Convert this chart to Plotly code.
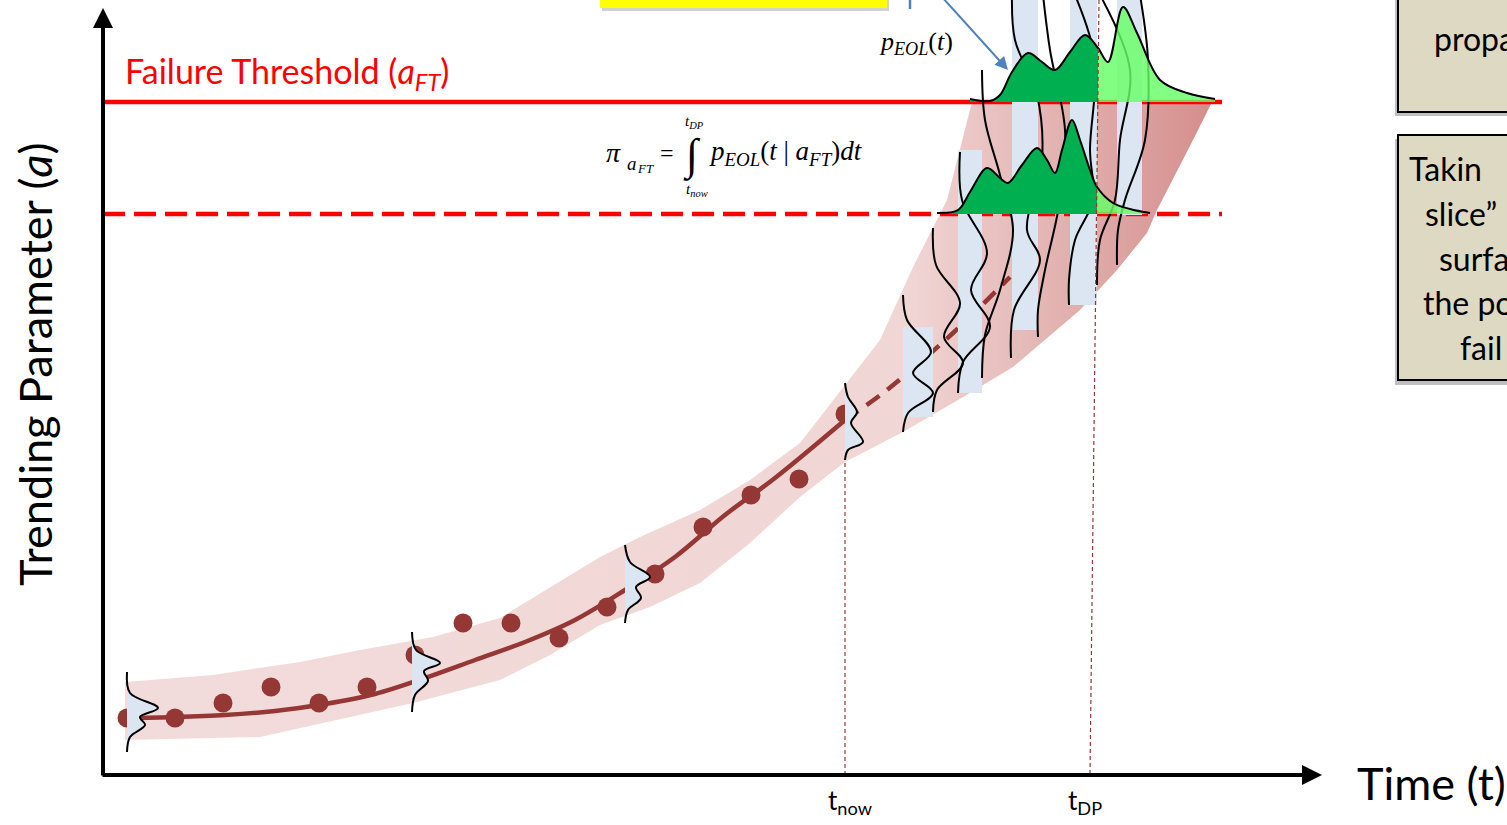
import plotly.graph_objects as go

# ---------------- data (t = time units, a = trending-parameter units) ----------------
obs_t = [24, 72, 120, 168, 216, 264, 312, 360, 408, 456, 504, 552, 600, 648, 696, 742]
obs_a = [57, 57, 72, 88, 72, 88, 120, 152, 152, 137, 168, 201, 248, 280, 296, 361]

fit_t = [22, 72, 122, 172, 222, 272, 322, 372, 422, 472, 522, 572, 622, 672, 742]
fit_a = [57, 58, 60, 64, 71, 81, 97, 115, 133, 155, 185, 218, 260, 297, 355]

pred_t = [742, 784, 850, 907]
pred_a = [355, 385, 442, 498]

band_up_t = [22, 110, 197, 257, 330, 397, 497, 537, 597, 647, 697, 742, 777, 810, 844, 869]
band_up_a = [93, 100, 113, 125, 138, 157, 218, 238, 265, 295, 332, 390, 435, 508, 575, 673]
band_lo_t = [1109, 1090, 1054, 1044, 1014, 977, 910, 855, 800, 742, 697, 647, 597, 547, 497, 447, 397, 310, 264, 157, 22]
band_lo_a = [673, 635, 565, 542, 505, 465, 408, 375, 343, 313, 278, 232, 192, 168, 150, 120, 95, 72, 62, 38, 35]

a_FT = 673          # failure threshold
a_warn = 561        # dashed threshold
t_end = 1119        # end of threshold lines
t_now = 742
t_now_a_top = 315
t_DP_top, t_DP_bot = 996, 987

# small pdfs along the fit (t, a)
pdf1_t = [24, 27, 55, 37, 42, 27, 24];          pdf1_a = [103, 82, 67, 58, 50, 38, 23]
pdf2_t = [309, 313, 337, 321, 325, 312, 309];   pdf2_a = [143, 125, 112, 104, 94, 80, 63]
pdf3_t = [522, 527, 547, 533, 538, 525, 522];   pdf3_a = [230, 213, 198, 188, 177, 165, 152]
pdf4_t = [742, 745, 754, 748, 760, 745, 742];   pdf4_a = [392, 378, 363, 352, 333, 325, 315]

# propagated pdfs (future)
up1_t = [800, 804, 828, 810, 830, 805, 800];        up1_a = [480, 455, 423, 402, 382, 362, 343]
up2_t = [830, 833, 857, 841, 860, 834, 830];        up2_a = [547, 510, 472, 438, 412, 385, 363]
up3_t = [857, 859, 884, 868, 887, 860, 855];        up3_a = [623, 575, 522, 485, 448, 413, 382]
up4_t = [879, 882, 897, 910, 897, 882, 879];        up4_a = [705, 655, 600, 545, 485, 440, 397]
up5_t = [909, 912, 934, 939, 924, 937, 911, 908];   up5_a = [780, 735, 680, 615, 545, 515, 465, 417]
up6_t = [940, 947, 962, 957, 942, 935, 935];        up6_a = [780, 725, 645, 575, 505, 465, 438]
up7_t = [972, 992, 987, 990, 972, 966, 966];        up7_a = [780, 715, 625, 575, 535, 495, 470]
up8_t = [997, 1027, 1017, 1012, 997, 994];          up8_a = [780, 705, 635, 575, 535, 490]
up9_t = [1037, 1045, 1042, 1022, 1015, 1014];       up9_a = [780, 715, 635, 575, 545, 510]

strip_t0 = [800, 855, 909, 967, 1014]
strip_t1 = [830, 879, 935, 994, 1039]
strip_top = [448, 625, 780, 780, 780]
strip_bot = [358, 382, 445, 470, 560]

# p_EOL at failure threshold
eol1_dark_t = [867, 887, 897, 909, 925, 939, 952, 967, 982, 995]
eol1_dark_a = [676, 674, 680, 703, 722, 713, 705, 723, 740, 727]
eol1_light_t = [995, 1005, 1020, 1034, 1057, 1084, 1112]
eol1_light_a = [727, 713, 768, 742, 695, 682, 676]
# p_EOL at dashed threshold
eol2_dark_t = [834, 855, 867, 884, 897, 905, 919, 934, 944, 952, 959, 969, 977, 987, 994]
eol2_dark_a = [562, 565, 583, 607, 597, 592, 610, 627, 615, 602, 625, 655, 635, 605, 588]
eol2_light_t = [994, 1010, 1027, 1047]
eol2_light_a = [588, 572, 566, 562]

# ---------------- styles ----------------
DARKRED = "#953735"
BLUE_FILL = "#dce6f2"
DARKGREEN = "#00b050"
LIGHTGREEN = "rgba(102,255,102,0.82)"
SANS = "Lato, Carlito, 'Open Sans', sans-serif"
SERIF = "'Liberation Serif', 'DejaVu Serif', serif"

fig = go.Figure()

def add(**kw):
    kw.setdefault("hoverinfo", "skip")
    kw.setdefault("showlegend", False)
    fig.add_trace(go.Scatter(**kw))

# uncertainty band with horizontal gradient
add(x=band_up_t + band_lo_t, y=band_up_a + band_lo_a, mode="lines", fill="toself",
    line=dict(width=0, color="rgba(0,0,0,0)"),
    fillgradient=dict(type="horizontal",
                      colorscale=[[0, "#f2dcdb"], [0.72, "#f0d6d5"], [1, "#d48e8c"]]))

# threshold lines
add(x=[0, t_end], y=[a_FT, a_FT], mode="lines", line=dict(color="#ff0000", width=4.5))
add(x=[0, t_end], y=[a_warn, a_warn], mode="lines", line=dict(color="#ff0000", width=4.5, dash="22px,9px"))

# fit + prediction
add(x=fit_t, y=fit_a, mode="lines", line=dict(color=DARKRED, width=4.5, shape="spline"))
add(x=pred_t, y=pred_a, mode="lines", line=dict(color=DARKRED, width=4.5, shape="spline", dash="16px,10px"))
add(x=obs_t, y=obs_a, mode="markers", marker=dict(color=DARKRED, size=19, line=dict(width=0)))

# t_now dotted line
add(x=[t_now, t_now], y=[0, t_now_a_top], mode="lines", line=dict(color=DARKRED, width=1.2, dash="4px,3px"))

# strips behind propagated pdfs
for t0, t1, top, bot in zip(strip_t0, strip_t1, strip_top, strip_bot):
    add(x=[t0, t1, t1, t0, t0], y=[bot, bot, top, top, bot], mode="lines", fill="toself",
        fillcolor=BLUE_FILL, line=dict(width=0, color="rgba(0,0,0,0)"))

# small pdfs with fill
for ts, as_ in [(pdf1_t, pdf1_a), (pdf2_t, pdf2_a), (pdf3_t, pdf3_a), (pdf4_t, pdf4_a)]:
    add(x=ts, y=as_, mode="lines", fill="toself", fillcolor=BLUE_FILL,
        line=dict(color="black", width=2, shape="spline"))

# propagated pdf curves
for ts, as_ in [(up1_t, up1_a), (up2_t, up2_a), (up3_t, up3_a), (up4_t, up4_a), (up5_t, up5_a),
                (up6_t, up6_a), (up7_t, up7_a), (up8_t, up8_a), (up9_t, up9_a)]:
    add(x=ts, y=as_, mode="lines", line=dict(color="black", width=2, shape="spline"))

# p_EOL shapes
def eol(dark_t, dark_a, light_t, light_a, base):
    add(x=[dark_t[0], dark_t[-1]], y=[base, base], mode="lines", line=dict(width=0, color="rgba(0,0,0,0)"))
    add(x=dark_t, y=dark_a, mode="lines", fill="tonexty", fillcolor=DARKGREEN,
        line=dict(width=0, shape="spline", color="rgba(0,0,0,0)"))
    add(x=[light_t[0], light_t[-1]], y=[base, base], mode="lines", line=dict(width=0, color="rgba(0,0,0,0)"))
    add(x=light_t, y=light_a, mode="lines", fill="tonexty", fillcolor=LIGHTGREEN,
        line=dict(width=0, shape="spline", color="rgba(0,0,0,0)"))
    add(x=dark_t + light_t[1:], y=dark_a + light_a[1:], mode="lines",
        line=dict(color="black", width=2, shape="spline"))

eol(eol1_dark_t, eol1_dark_a, eol1_light_t, eol1_light_a, a_FT)
eol(eol2_dark_t, eol2_dark_a, eol2_light_t, eol2_light_a, a_warn)

# t_DP dotted line
add(x=[t_DP_top, t_DP_bot], y=[775, 0], mode="lines", line=dict(color=DARKRED, width=1.2, dash="4px,3px"))

# ---------------- shapes: boxes ----------------
shapes = [
    dict(type="rect", xref="x", yref="y", x0=499, x1=786, y0=764, y1=780, fillcolor="rgba(0,0,0,0.18)", line=dict(width=0)),
    dict(type="rect", xref="x", yref="y", x0=497, x1=784, y0=767, y1=785, fillcolor="#ffff00", line=dict(width=0)),
    dict(type="rect", xref="x", yref="y", x0=1292, x1=1420, y0=659, y1=785, fillcolor="rgba(0,0,0,0.25)", line=dict(width=0)),
    dict(type="rect", xref="x", yref="y", x0=1295, x1=1420, y0=663, y1=785, fillcolor="#ddd9c3", line=dict(color="black", width=2)),
    dict(type="rect", xref="x", yref="y", x0=1292, x1=1420, y0=390, y1=636, fillcolor="rgba(0,0,0,0.25)", line=dict(width=0)),
    dict(type="rect", xref="x", yref="y", x0=1295, x1=1420, y0=395, y1=640, fillcolor="#ddd9c3", line=dict(color="black", width=2)),
    dict(type="line", xref="x", yref="y", x0=807, x1=807, y0=766, y1=785, line=dict(color="#4f81bd", width=2.5)),
]

# ---------------- annotations ----------------
ann = []
# axes with arrowheads
ann.append(dict(x=0, y=767, ax=0, ay=-2, xref="x", yref="y", axref="x", ayref="y", text="",
                showarrow=True, arrowhead=2, arrowsize=1, arrowwidth=4, arrowcolor="black"))
ann.append(dict(x=1219, y=0, ax=-2, ay=0, xref="x", yref="y", axref="x", ayref="y", text="",
                showarrow=True, arrowhead=2, arrowsize=1, arrowwidth=4, arrowcolor="black"))
# blue arrow to p_EOL
ann.append(dict(x=905, y=705, ax=839, ay=778, xref="x", yref="y", axref="x", ayref="y", text="",
                showarrow=True, arrowhead=2, arrowsize=1.3, arrowwidth=2, arrowcolor="#4f81bd"))

def txt(x, y, text, size, color="black", family=SANS, xanchor="center", yanchor="middle", angle=0):
    ann.append(dict(x=x, y=y, xref="x", yref="y", text=text, showarrow=False, xanchor=xanchor,
                    yanchor=yanchor, textangle=angle, font=dict(size=size, color=color, family=family)))

txt(-68, 410, "Trending Parameter (<i>a</i>)", 45, angle=-90)
txt(1252, -8, "Time (t)", 45, xanchor="left")
txt(747, -26, "t<sub>now</sub>", 26)
txt(982, -26, "t<sub>DP</sub>", 26)
txt(20, 702, "Failure Threshold (<i>a</i><sub><i>FT</i></sub>)", 34, color="#ff0000", xanchor="left")

# formula
txt(510, 623, "<i>π</i>", 28, family=SERIF)
txt(529, 612, "<i>a</i>", 19, family=SERIF)
txt(542, 607, "<i>FT</i>", 13, family=SERIF)
txt(564, 622, "=", 24, family=SERIF)
txt(589, 620, "∫", 44, family=SERIF)
txt(591, 653, "<i>t</i><sub><i>DP</i></sub>", 15, family=SERIF)
txt(594, 585, "<i>t</i><sub><i>now</i></sub>", 15, family=SERIF)
txt(604, 622, "<i>p</i><sub><i>EOL</i></sub>(<i>t</i> | <i>a</i><sub><i>FT</i></sub>)<i>dt</i>", 27,
    family=SERIF, xanchor="left")
txt(774, 732, "<i>p</i><sub><i>EOL</i></sub>(<i>t</i>)", 26, family=SERIF, xanchor="left")

# right text boxes (cut by the page edge)
txt(1329, 737, "propa", 32, xanchor="left")
txt(1304, 607, "Takin", 32, xanchor="left")
txt(1320, 562, "slice”", 32, xanchor="left")
txt(1334, 517, "surfa", 32, xanchor="left")
txt(1318, 473, "the po", 32, xanchor="left")
txt(1355, 428, "fail", 32, xanchor="left")

fig.update_layout(
    width=1507, height=825, margin=dict(l=0, r=0, t=0, b=0),
    paper_bgcolor="white", plot_bgcolor="white", showlegend=False,
    xaxis=dict(range=[-103, 1404], visible=False, fixedrange=True),
    yaxis=dict(range=[-50, 775], visible=False, fixedrange=True),
    shapes=shapes, annotations=ann,
)

fig.write_html("out.html")
